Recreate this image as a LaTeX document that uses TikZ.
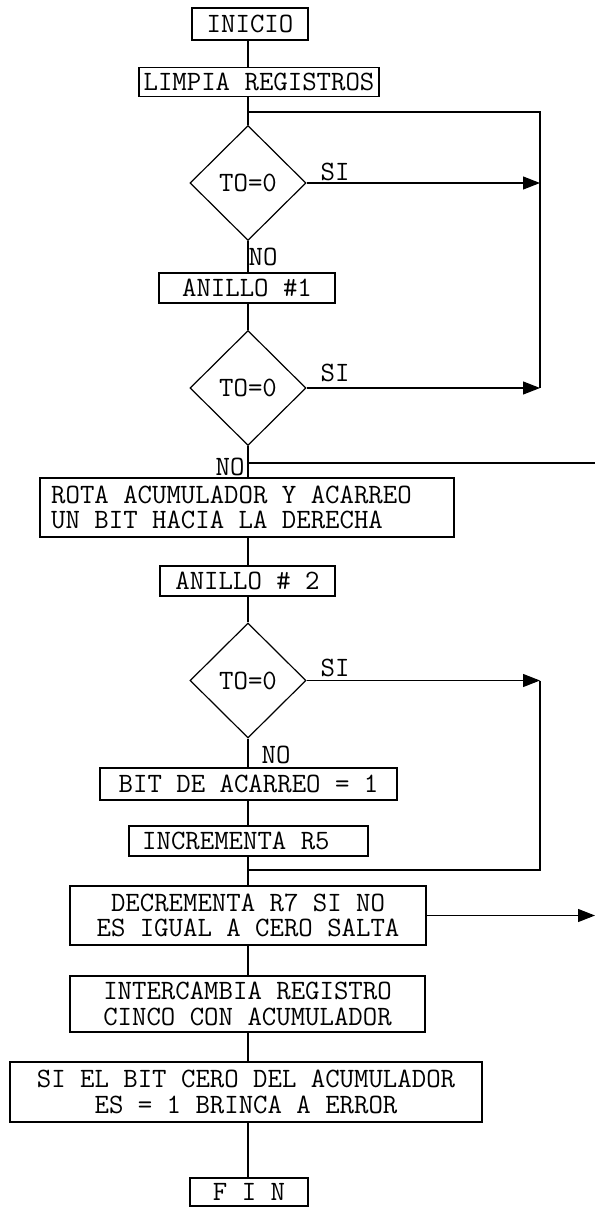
\documentclass[tikz,border=0pt]{standalone}
\usepackage{fontspec}
\usetikzlibrary{shapes.geometric,arrows.meta}
\begin{document}
\begin{tikzpicture}[x=1pt,y=-1pt,
  every node/.style={font=\ttfamily\fontsize{28}{25.5}\selectfont, inner sep=0pt},
  box/.style={draw, line width=1.2pt, align=center, text height=17pt, text depth=0pt},
  frame/.style={draw, line width=1.2pt},
  mbox/.style={draw, line width=1.2pt, align=center},
  txt/.style={align=left},
  dec/.style={draw, diamond, line width=1.2pt, minimum width=116pt, minimum height=115pt, text height=17pt, text depth=0pt},
  lbl/.style={text height=17pt, text depth=0pt},
  ln/.style={line width=1.2pt},
  arr/.style={line width=1.2pt, -{Triangle[length=17pt,width=13pt]}}
]
\useasboundingbox (0,0) rectangle (595,1207);

% boxes
\node[box, minimum width=116pt, minimum height=32pt] (ini) at (250,24) {INICIO};
\node[box, minimum width=240pt, minimum height=29pt] (lim) at (259,82) {LIMPIA REGISTROS};
\node[dec] (d1) at (248,183) {TO=0};
\node[box, minimum width=176pt, minimum height=30pt] (an1) at (247,288) {ANILLO \#1};
\node[dec] (d2) at (248,388) {TO=0};
\node[frame, minimum width=414pt, minimum height=59pt] (rot) at (247,507.5) {};
\node[txt, anchor=west] (rott) at (51,507.5) {ROTA ACUMULADOR Y ACARREO\\UN BIT HACIA LA DERECHA};
\node[box, minimum width=175pt, minimum height=30pt] (an2) at (247.5,581) {ANILLO \# 2};
\node[dec] (d3) at (248,680.5) {TO=0};
\node[box, minimum width=297pt, minimum height=32pt] (bit) at (248.5,784) {BIT DE ACARREO = 1};
\node[frame, minimum width=239pt, minimum height=30pt] (inc) at (248.5,841) {};
\node[lbl, anchor=west] (inct) at (142,841) {INCREMENTA R5};
\node[mbox, minimum width=356pt, minimum height=59pt] (dcr) at (248,915.5) {DECREMENTA R7 SI NO\\ES IGUAL A CERO SALTA};
\node[mbox, minimum width=355pt, minimum height=56pt] (int) at (247.5,1004) {INTERCAMBIA REGISTRO\\CINCO CON ACUMULADOR};
\node[mbox, minimum width=472pt, minimum height=60pt] (sie) at (246,1092) {SI EL BIT CERO DEL ACUMULADOR\\ES = 1 BRINCA A ERROR};
\node[box, minimum width=118pt, minimum height=28pt] (fin) at (249,1192) {F I N};

% labels
\node[lbl] (si1) at (335,172) {SI};
\node[lbl] (no1) at (263,257) {NO};
\node[lbl] (si2) at (335,373) {SI};
\node[lbl] (no2) at (230,467) {NO};
\node[lbl] (si3) at (335,668) {SI};
\node[lbl] (no3) at (276,755) {NO};

% helper coordinates
\coordinate (j1) at (248,112);
\coordinate (r1) at (540,112);
\coordinate (r2) at (540,388);
\coordinate (a1) at (540,183);
\coordinate (j2) at (248,463);
\coordinate (e2) at (595,463);
\coordinate (a3) at (540,680.5);
\coordinate (r4) at (540,870);
\coordinate (j4) at (248,870);
\coordinate (e5) at (595,915.5);

% connectors
\draw[ln] (d1.north |- ini.south) -- (d1.north |- lim.north);
\draw[ln] (d1.north |- lim.south) -- (d1.north);
\draw[ln] (j1) -- (r1) -- (r2);
\draw[arr] (d1.east) -- (a1);
\draw[ln] (d1.south) -- (d1.south |- an1.north);
\draw[ln] (d2.north |- an1.south) -- (d2.north);
\draw[arr] (d2.east) -- (r2);
\draw[ln] (d2.south) -- (d2.south |- rot.north);
\draw[ln] (j2) -- (e2);
\draw[ln] (d2.south |- rot.south) -- (d2.south |- an2.north);
\draw[ln] (d3.north |- an2.south) -- (d3.north);
\draw[arr] (d3.east) -- (a3);
\draw[ln] (a3) -- (r4) -- (j4);
\draw[ln] (d3.south) -- (d3.south |- bit.north);
\draw[ln] (d3.south |- bit.south) -- (d3.south |- inc.north);
\draw[ln] (d3.south |- inc.south) -- (d3.south |- dcr.north);
\draw[arr] (dcr.east) -- (e5);
\draw[ln] (d3.south |- dcr.south) -- (d3.south |- int.north);
\draw[ln] (d3.south |- int.south) -- (d3.south |- sie.north);
\draw[ln] (d3.south |- sie.south) -- (d3.south |- fin.north);
\end{tikzpicture}
\end{document}
